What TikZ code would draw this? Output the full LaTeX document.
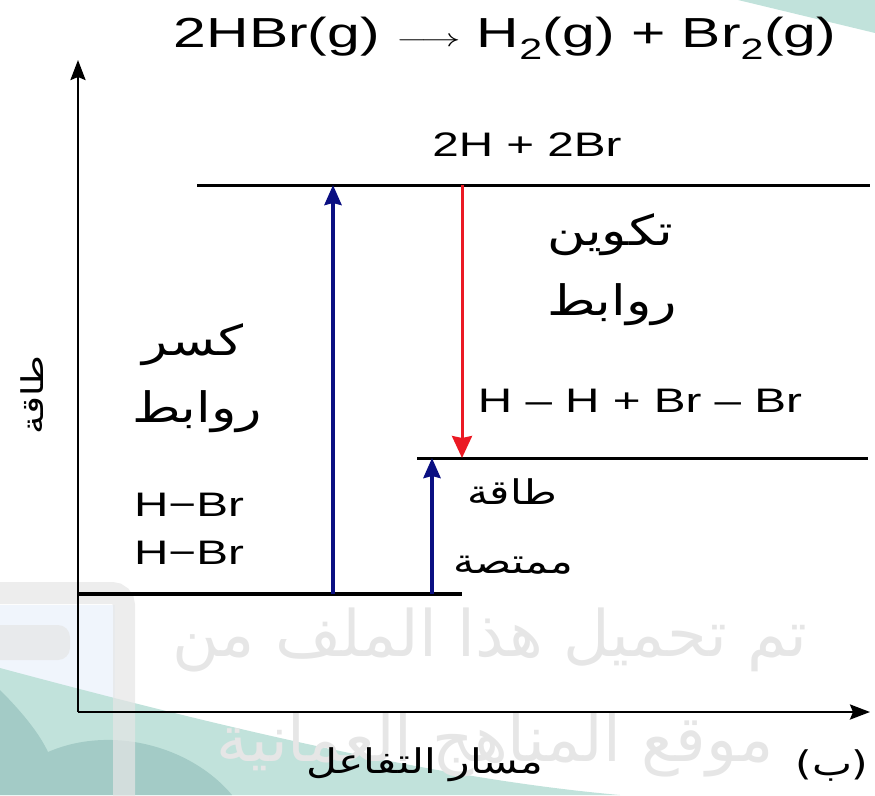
\documentclass[tikz,border=0pt]{standalone}
\usepackage{fontspec}
\setmainfont{Liberation Sans}
\newfontfamily\arabicfont[Script=Arabic]{DejaVu Sans}
\TeXXeTstate=1
\usepackage{graphicx}
\usetikzlibrary{arrows.meta,positioning}
\definecolor{bondblue}{RGB}{10,15,130}
\definecolor{bondred}{RGB}{235,25,35}
\definecolor{markteal}{RGB}{193,226,219}
\definecolor{markdeep}{RGB}{163,203,198}
\definecolor{markgray}{RGB}{230,230,230}
\definecolor{markpale}{RGB}{240,245,252}
\newcommand{\wide}[1]{\scalebox{1.4}[1]{#1}}
\newcommand{\artxt}[1]{\scalebox{1.25}[1]{\arabicfont\beginR #1\endR}}

\begin{document}
\begin{tikzpicture}[
    x=1pt, y=-1pt,
    level/.style={line width=3pt},
    axis/.style={line width=2.6pt, -{Stealth[length=20pt, width=15pt, inset=3pt]}},
    up/.style={line width=3.8pt, bondblue, -{Stealth[length=20pt, width=17pt, inset=2pt]}},
    down/.style={line width=3pt, bondred, -{Stealth[length=22pt, width=20pt, inset=2pt]}},
    txt/.style={font=\fontsize{34}{40}\selectfont, inner sep=0pt},
    bigtxt/.style={font=\fontsize{42}{48}\selectfont, inner sep=0pt},
    wmark/.style={font=\fontsize{64}{70}\selectfont, inner sep=0pt, text=markgray}
]
\useasboundingbox (0,0) rectangle (875,795);

% background marks
\fill[markpale] (0,605) rectangle (115,700);
\fill[markteal] (0,668) .. controls (250,735) and (450,780) .. (620,795) -- (0,795) -- cycle;
\fill[markdeep] (0,690) .. controls (25,715) and (40,735) .. (48,752)
    .. controls (110,725) and (190,745) .. (232,795) -- (0,795) -- cycle;
\fill[markteal] (738,0) -- (875,0) -- (875,33) -- cycle;
\draw[markgray, line width=22pt, opacity=0.7, rounded corners=12pt] (-20,593) -- (124,593) -- (124,800);
\fill[markgray, opacity=0.7, rounded corners=12pt] (-20,625) rectangle (70,660);
\node[wmark] (wm1) at (490,640) {\arabicfont\beginR تم تحميل هذا الملف من\endR};
\node[wmark] (wm2) at (495,745) {\arabicfont\beginR موقع المناهج العمانية\endR};

% axes
\coordinate (o)  at (78,712);
\coordinate (yt) at (78,60);
\coordinate (xr) at (870,712);
\draw[axis] (o) -- (yt);
\draw[axis] (o) -- (xr);

% energy levels
\coordinate (lowL)  at (78,594);
\coordinate (lowR)  at (462,594);
\coordinate (highL) at (197,185);
\coordinate (highR) at (870,185);
\coordinate (midL)  at (417,458);
\coordinate (midR)  at (868,458);
\draw[level, line width=4.5pt] (lowL) -- (lowR);
\draw[level] (highL) -- (highR);
\draw[level] (midL) -- (midR);

% arrows
\coordinate (brkS) at (333,594);
\coordinate (brkE) at (333,185);
\coordinate (frmS) at (462,185);
\coordinate (frmE) at (462,458);
\coordinate (absS) at (432,594);
\coordinate (absE) at (432,458);
\draw[up] (brkS) -- (brkE);
\draw[down] (frmS) -- (frmE);
\draw[up] (absS) -- (absE);

% labels
\node[txt, font=\fontsize{42}{48}\selectfont] (eqn) at (505,38)
    {\wide{2HBr(g) \raisebox{1pt}{\scalebox{1.15}[1]{$\longrightarrow$}} H\textsubscript{2}(g) + Br\textsubscript{2}(g)}};
\node[txt] (atoms) at (527,145) {\wide{2H + 2Br}};
\node[bigtxt] (brk1) at (193,345) {\artxt{كسر}};
\node[bigtxt] (brk2) at (197,412) {\artxt{روابط}};
\node[txt] (hbr1) at (189,505) {\wide{H−Br}};
\node[txt] (hbr2) at (189,553) {\wide{H−Br}};
\node[bigtxt] (frm1) at (610,235) {\artxt{تكوين}};
\node[bigtxt] (frm2) at (612,305) {\artxt{روابط}};
\node[txt] (prod) at (640,401) {\wide{H – H + Br – Br}};
\node[txt] (abs1) at (512,492) {\artxt{طاقة}};
\node[txt] (abs2) at (513,565) {\artxt{ممتصة}};
\node[txt, font=\fontsize{30}{36}\selectfont, rotate=90] (ylab) at (32,395) {\artxt{طاقة}};
\node[txt] (xlab) at (425,765) {\artxt{مسار التفاعل}};
\node[txt] (tag) at (832,765) {\artxt{(ب)}};
\end{tikzpicture}
\end{document}
